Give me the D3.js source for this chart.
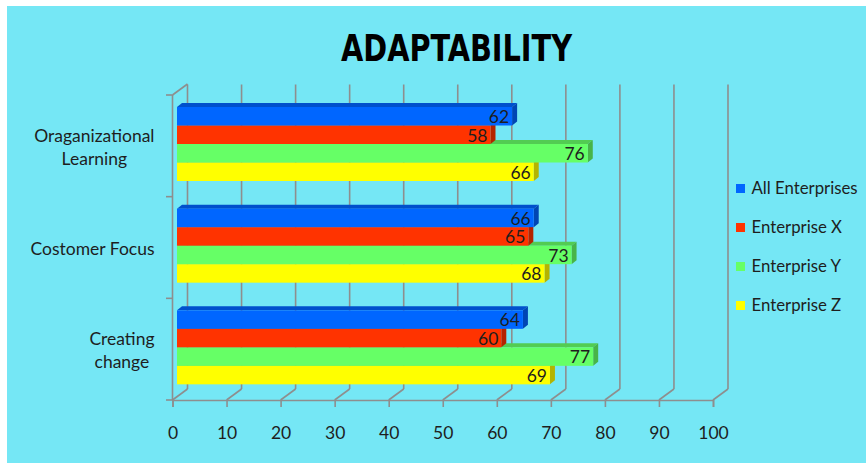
<!DOCTYPE html>
<html>
<head>
<meta charset="utf-8">
<script src="https://cdn.jsdelivr.net/npm/d3@7"></script>
<style>
  html, body { margin: 0; padding: 0; background: #ffffff; }
  svg { display: block; }
</style>
</head>
<body>
<svg id="chart" width="866" height="463"></svg>
<script>
// Adaptability scores per focus area and enterprise
const categories = ["Oraganizational Learning", "Costomer Focus", "Creating change"];
const categoryLines = [["Oraganizational", "Learning"], ["Costomer Focus"], ["Creating", "change"]];
const seriesNames = ["All Enterprises", "Enterprise X", "Enterprise Y", "Enterprise Z"];
const allEnterprises = [62, 66, 64];
const enterpriseX = [58, 65, 60];
const enterpriseY = [76, 73, 77];
const enterpriseZ = [66, 68, 69];
const xTicks = [0, 10, 20, 30, 40, 50, 60, 70, 80, 90, 100];
const titleText = "ADAPTABILITY";

const seriesValues = [allEnterprises, enterpriseX, enterpriseY, enterpriseZ];
const seriesFront = ["#0066ff", "#ff3300", "#66ff66", "#ffff00"];
const seriesTop = ["#0050cc", "#cc2800", "#52cc52", "#cccc00"];
const seriesSide = ["#0046b4", "#b42400", "#48b448", "#b4b400"];

const svg = d3.select("#chart");
const labelFont = "Lato, 'Open Sans', 'Liberation Sans', sans-serif";
const ink = "#1e1e1e";
const gridColor = "#8e8e8e";

// chart area background
svg.append("rect").attr("x", 7).attr("y", 6).attr("width", 859).attr("height", 457).attr("fill", "#75e7f5");

// title
svg.append("text")
  .attr("x", 456.5).attr("y", 61)
  .attr("text-anchor", "middle")
  .attr("font-family", "'DejaVu Sans Condensed', 'DejaVu Sans', sans-serif")
  .attr("font-weight", "bold").attr("font-size", 38)
  .attr("textLength", 231).attr("lengthAdjust", "spacingAndGlyphs")
  .attr("fill", "#000").text(titleText);

// scales: front plane of the 3-D box and the depth offsets
const x = d3.scaleLinear().domain([0, 100]).range([172.5, 713]);
const y = d3.scaleBand().domain(categories).range([95, 400]).paddingInner(0).paddingOuter(0);
const yInner = d3.scaleBand().domain(seriesNames).range([12, 86]);
const depthX = 15, depthY = 11;          // full box depth
const barShiftX = 4.5;                   // bar front face sits inside the box
const barDX = 5, barDY = 4;              // bar thickness in depth

const plotBottom = y.range()[1], plotTop = y.range()[0];

// back-wall gridlines and floor diagonals
const grid = svg.append("g").attr("stroke", gridColor).attr("stroke-width", 1.6).attr("fill", "none");
xTicks.forEach(v => {
  grid.append("line")
    .attr("x1", x(v) + depthX).attr("x2", x(v) + depthX)
    .attr("y1", plotTop - depthY + 0.5).attr("y2", plotBottom - depthY);
  grid.append("line")
    .attr("x1", x(v)).attr("y1", plotBottom)
    .attr("x2", x(v) + depthX).attr("y2", plotBottom - depthY);
});
// left wall front edge and top diagonal
grid.append("line").attr("x1", x(0)).attr("x2", x(0)).attr("y1", plotTop).attr("y2", plotBottom);
grid.append("line").attr("x1", x(0)).attr("y1", plotTop).attr("x2", x(0) + depthX).attr("y2", plotTop - depthY);
// category boundary ticks
const boundaries = categories.map(c => y(c)).concat([plotBottom]);
boundaries.forEach(b => {
  grid.append("line").attr("x1", x(0) - 6.5).attr("x2", x(0)).attr("y1", b).attr("y2", b);
});

// bottom value axis
const xAxis = d3.axisBottom(x).tickValues(xTicks).tickSize(7).tickSizeOuter(7).tickPadding(20);
const axisG = svg.append("g").attr("transform", `translate(0,${plotBottom})`).call(xAxis);
axisG.selectAll("path, line").attr("stroke", gridColor).attr("stroke-width", 1.6);
axisG.selectAll("text").attr("font-family", labelFont).attr("font-size", 17.5).attr("fill", ink);

// bars (lower series first so that upper bars overlap their tops)
const bars = svg.append("g");
categories.forEach((cat, ci) => {
  for (let si = seriesNames.length - 1; si >= 0; si--) {
    const v = seriesValues[si][ci];
    const x0 = x(0) + barShiftX;
    const x1 = x(v) + barShiftX;
    const y0 = y(cat) + yInner(seriesNames[si]);
    const h = yInner.bandwidth();
    const g = bars.append("g");
    // top face
    g.append("path")
      .attr("d", `M${x0},${y0} L${x1},${y0} L${x1 + barDX},${y0 - barDY} L${x0 + barDX},${y0 - barDY} Z`)
      .attr("fill", seriesTop[si]);
    // side face
    g.append("path")
      .attr("d", `M${x1},${y0} L${x1 + barDX},${y0 - barDY} L${x1 + barDX},${y0 + h - barDY} L${x1},${y0 + h} Z`)
      .attr("fill", seriesSide[si]);
    // front face
    g.append("rect")
      .attr("x", x0).attr("y", y0).attr("width", x1 - x0).attr("height", h)
      .attr("fill", seriesFront[si]);
    // value label
    g.append("text")
      .attr("x", x1 - 3).attr("y", y0 + h / 2 + 0.5)
      .attr("dy", "0.36em")
      .attr("text-anchor", "end")
      .attr("font-family", labelFont).attr("font-size", 17.5)
      .attr("fill", ink).text(v);
  }
});

// category labels: lines centred within a block whose right edge is aligned
const catG = svg.append("g");
categories.forEach((cat, ci) => {
  const lines = categoryLines[ci];
  const lineH = 23;
  const cy = y(cat) + y.bandwidth() / 2 + 1.5;
  const texts = lines.map((ln, li) =>
    catG.append("text")
      .attr("y", cy + (li - (lines.length - 1) / 2) * lineH)
      .attr("dy", "0.35em")
      .attr("text-anchor", "middle")
      .attr("font-family", labelFont).attr("font-size", 17.5)
      .attr("fill", ink).text(ln));
  const w = d3.max(texts, t => t.node().getComputedTextLength());
  texts.forEach(t => t.attr("x", 154.5 - w / 2));
});

// legend
const legend = svg.append("g");
seriesNames.forEach((name, si) => {
  const cy = 188.5 + si * 39;
  legend.append("rect").attr("x", 736).attr("y", cy - 4.5).attr("width", 9).attr("height", 9).attr("fill", seriesFront[si]);
  legend.append("text").attr("x", 751.5).attr("y", cy).attr("dy", "0.35em")
    .attr("font-family", labelFont).attr("font-size", 16.8)
    .attr("fill", ink).text(name);
});
</script>
</body>
</html>
